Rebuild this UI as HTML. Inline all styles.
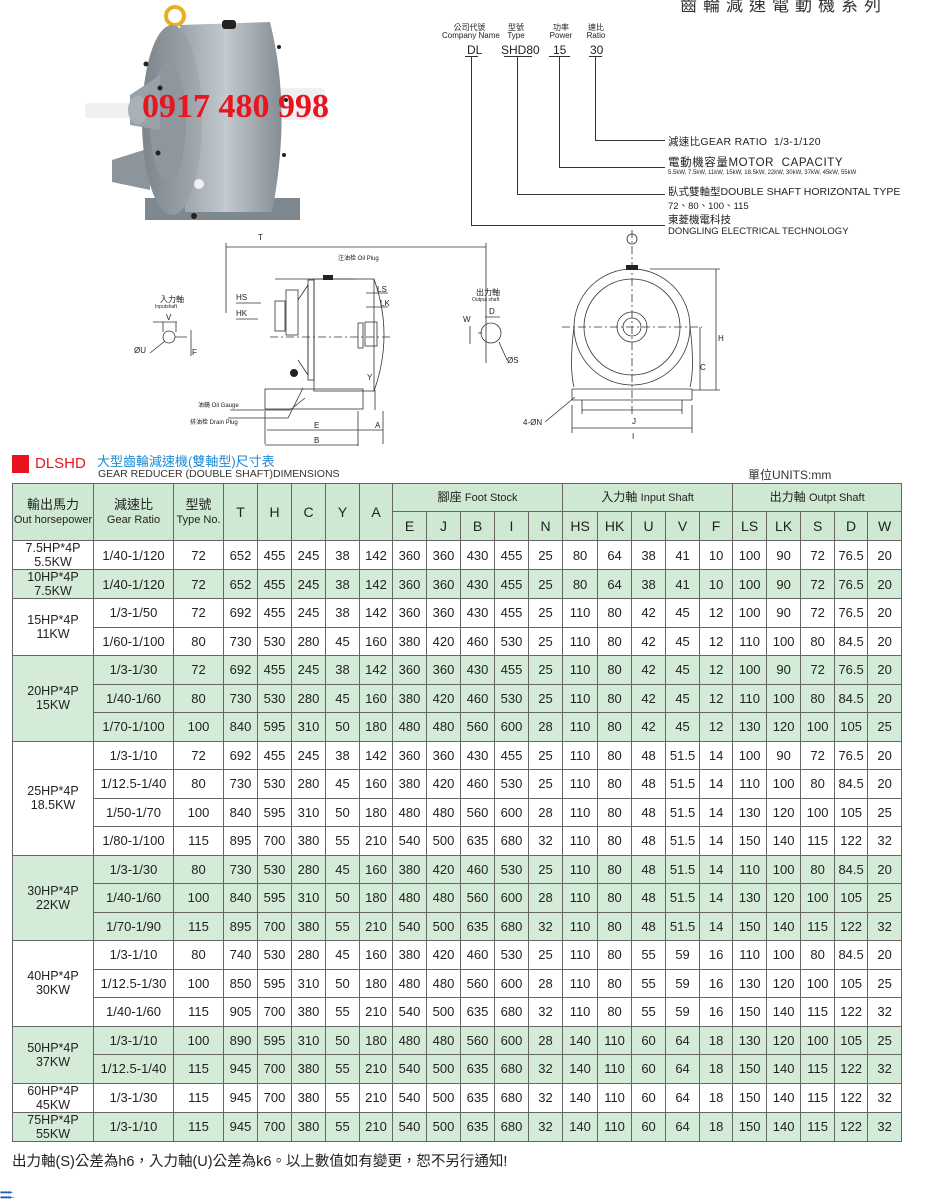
<!DOCTYPE html>
<html><head><meta charset="utf-8">
<style>
body{margin:0;width:926px;height:1200px;background:#fff;position:relative;overflow:hidden;font-family:"Liberation Sans","Noto Sans CJK TC",sans-serif;color:#222}
.a{position:absolute;white-space:nowrap}
table{position:absolute;left:12px;top:483px;border-collapse:collapse;table-layout:fixed;width:889px;font-size:13px}
td{border:1px solid #666;text-align:center;padding:0;line-height:13px;overflow:hidden;white-space:nowrap}
thead td{background:#cfe8d2;font-size:14px}
tr.d td{height:27.5px}
tr.g td{background:#d3ebd7}
.hp{font-size:12.5px;line-height:14px}
.sm{font-size:11px}
</style></head><body>

<div class="a" style="left:680px;top:-9px;font-size:17px;letter-spacing:6px;color:#333">齒輪減速電動機系列</div>

<!-- motor photo -->
<svg class="a" style="left:0;top:0" width="420" height="240">
<defs><linearGradient id="gb" x1="0" x2="1"><stop offset="0" stop-color="#9aa2a9"/><stop offset=".45" stop-color="#c3c9ce"/><stop offset="1" stop-color="#858d95"/></linearGradient>
<linearGradient id="gf" x1="0" x2="1"><stop offset="0" stop-color="#7d858c"/><stop offset="1" stop-color="#a4abb1"/></linearGradient></defs>
<circle cx="175" cy="16" r="9" fill="none" stroke="#e8b020" stroke-width="4"/>
<path d="M112 160 L150 148 L150 190 L112 182Z" fill="#8d959c"/>
<rect x="145" y="198" width="155" height="22" fill="#7f878f"/>
<rect x="85" y="103" width="45" height="15" rx="3" fill="#eef0f2"/>
<rect x="275" y="88" width="50" height="32" rx="4" fill="#eef0f2"/>
<path d="M180 25 L270 22 Q292 110 272 212 L185 212Z" fill="url(#gb)"/>
<ellipse cx="172" cy="120" rx="30" ry="95" fill="url(#gf)"/>
<ellipse cx="168" cy="122" rx="18" ry="60" fill="#8f979e"/>
<path d="M130 95 L160 75 L160 130 L130 125Z" fill="#9aa1a8"/>
<ellipse cx="138" cy="110" rx="10" ry="14" fill="#a9b0b6"/>
<rect x="222" y="20" width="14" height="9" rx="3" fill="#222"/>
<circle cx="194" cy="216" r="3" fill="#222"/>
<circle cx="199" cy="184" r="5" fill="#eef0f2"/>
<g fill="#222"><circle cx="146" cy="64" r="2.5"/><circle cx="160" cy="88" r="2.5"/><circle cx="158" cy="153" r="2.5"/><circle cx="279" cy="47" r="2"/><circle cx="286" cy="100" r="2"/><circle cx="284" cy="155" r="2"/></g>
</svg>
<div class="a" style="left:142px;top:88px;font-family:'Liberation Serif',serif;font-weight:bold;font-size:34px;color:#e8141e">0917 480 998</div>

<!-- code legend -->
<div class="a" style="left:442px;top:24px;font-size:8px;line-height:8px;text-align:center;width:55px">公司代號<br>Company Name</div>
<div class="a" style="left:501px;top:24px;font-size:8px;line-height:8px;text-align:center;width:30px">型號<br>Type</div>
<div class="a" style="left:547px;top:24px;font-size:8px;line-height:8px;text-align:center;width:28px">功率<br>Power</div>
<div class="a" style="left:583px;top:24px;font-size:8px;line-height:8px;text-align:center;width:26px">速比<br>Ratio</div>
<div class="a" style="left:467px;top:43px;font-size:12px">DL</div>
<div class="a" style="left:501px;top:43px;font-size:12px">SHD80</div>
<div class="a" style="left:553px;top:43px;font-size:12px">15</div>
<div class="a" style="left:590px;top:43px;font-size:12px">30</div>
<svg class="a" style="left:0;top:0" width="926" height="240">
<g stroke="#333" stroke-width="1" fill="none">
<path d="M465 56.5h13M504 56.5h28M549 56.5h21M589 56.5h13"/>
<path d="M595.5 57V140.5H665"/>
<path d="M559.5 57V167.5H665"/>
<path d="M517.5 57V194.5H665"/>
<path d="M471.5 57V225.5H665"/>
</g></svg>
<div class="a" style="left:668px;top:134px;font-size:10.5px;letter-spacing:.3px">減速比GEAR RATIO&nbsp; 1/3-1/120</div>
<div class="a" style="left:668px;top:154px;font-size:11.5px;letter-spacing:.6px">電動機容量MOTOR&nbsp; CAPACITY</div>
<div class="a" style="left:668px;top:170px;font-size:6px">5.5kW, 7.5kW, 11kW, 15kW, 18.5kW, 22kW, 30kW, 37kW, 45kW, 55kW</div>
<div class="a" style="left:668px;top:184px;font-size:10.5px">臥式雙軸型DOUBLE SHAFT HORIZONTAL TYPE</div>
<div class="a" style="left:668px;top:198px;font-size:9.5px">72、80、100、115</div>
<div class="a" style="left:668px;top:212px;font-size:10.5px">東菱機電科技</div>
<div class="a" style="left:668px;top:226px;font-size:9.5px">DONGLING ELECTRICAL TECHNOLOGY</div>

<!-- technical drawings -->
<svg class="a" style="left:0;top:230px" width="926" height="220" font-family="Liberation Sans,Noto Sans CJK TC,sans-serif">
<g stroke="#333" fill="none" stroke-width="0.8">
<circle cx="169" cy="107" r="6"/><path d="M175 107h12M153 92h24M163 92v10M176 92v10M191 100v26"/>
<path d="M150 123l15-12"/>
<path d="M226 17h260M226 13v70M486 13v120"/>
<path d="M275 49h80"/>
<rect x="275" y="71" width="10" height="30"/>
<rect x="286" y="60" width="12" height="45"/>
<path d="M298 70l10-15v90l-10-15"/>
<rect x="308" y="50" width="6" height="100"/>
<rect x="314" y="49" width="60" height="112"/>
<path d="M374 49q20 56 0 112"/>
<rect x="358" y="93" width="5" height="25"/>
<rect x="365" y="92" width="12" height="24"/>
<path d="M270 107h120" stroke-dasharray="8 3 2 3"/>
<rect x="265" y="159" width="98" height="20"/>
<path d="M265 181v33M358 181v35M383 181v33M267 200h91M265 215h93M358 200h25"/>
<path d="M230 180h60l15-12M228 188h60l15-30"/>
<path d="M366 63h22M366 77h22M375 160v20M236 73h25M236 89h22"/>
</g>
<rect x="323" y="45" width="10" height="5" fill="#222"/>
<circle cx="294" cy="143" r="4" fill="#222"/>
<g font-size="8" fill="#222">
<text x="160" y="72">入力軸</text><text x="155" y="78" font-size="5">Inputshaft</text>
<text x="166" y="90">V</text><text x="134" y="123">ØU</text><text x="192" y="125">F</text>
<text x="258" y="10">T</text><text x="338" y="30" font-size="6">注油栓 Oil Plug</text>
<text x="236" y="70">HS</text><text x="236" y="86">HK</text><text x="377" y="62">LS</text><text x="380" y="76">LK</text>
<text x="367" y="150">Y</text>
<text x="198" y="177" font-size="6">油鏡 Oil Gauge</text><text x="190" y="194" font-size="6">排油栓 Drain Plug</text>
<text x="314" y="198">E</text><text x="375" y="198">A</text><text x="314" y="213">B</text>
<text x="476" y="65">出力軸</text><text x="472" y="71" font-size="5">Output shaft</text>
<text x="489" y="84">D</text><text x="463" y="92">W</text><text x="507" y="133">ØS</text>
<text x="523" y="195">4-ØN</text><text x="632" y="194">J</text><text x="632" y="209">I</text>
<text x="718" y="111">H</text><text x="700" y="140">C</text>
</g>
<g stroke="#333" fill="none" stroke-width="0.8">
<circle cx="491" cy="103" r="10"/><path d="M478 103h4M485 87h15M470 96v18M499 112l8 18"/>
<circle cx="632" cy="97" r="58"/><circle cx="632" cy="97" r="48"/><circle cx="632" cy="97" r="15"/><circle cx="632" cy="97" r="9"/>
<circle cx="632" cy="9" r="5"/>
<path d="M574 97q-5 40 0 60M690 97q5 40 0 60M572 159h120M572 170h120M572 159v11M692 159v11"/>
<path d="M562 97h140M632 0v185" stroke-dasharray="8 3 2 3"/>
<path d="M582 180h100M572 198h120M572 175v28M692 175v28M582 170v14M682 170v14"/>
<path d="M650 39h70M692 160h28M716 39v121M700 97v63"/>
<path d="M545 192l30-25"/>
</g>
<rect x="626" y="35" width="12" height="5" fill="#222"/>
</svg>

<div class="a" style="left:12px;top:455px;width:17px;height:18px;background:#e8141e"></div>
<div class="a" style="left:35px;top:455px;font-size:15px;color:#e8141e">DLSHD</div>
<div class="a" style="left:97px;top:451px;font-size:13px;color:#1e8ad6">大型齒輪減速機(雙軸型)尺寸表</div>
<div class="a" style="left:98px;top:468px;font-size:10.5px;color:#333">GEAR REDUCER (DOUBLE SHAFT)DIMENSIONS</div>
<div class="a" style="left:748px;top:466px;font-size:12px;color:#333">單位UNITS:mm</div>

<table>
<colgroup>
<col style="width:81px"><col style="width:80px"><col style="width:50px"><col style="width:34px"><col style="width:34px"><col style="width:34px"><col style="width:34px"><col style="width:33px"><col style="width:34px"><col style="width:34px"><col style="width:34px"><col style="width:34px"><col style="width:34px"><col style="width:35px"><col style="width:34px"><col style="width:34px"><col style="width:34px"><col style="width:33px"><col style="width:34px"><col style="width:34px"><col style="width:34px"><col style="width:33px"><col style="width:34px">
</colgroup>
<thead>
<tr style="height:28px"><td rowspan="2" class="sm" style="line-height:14px"><span style="font-size:13px">輸出馬力</span><br>Out horsepower</td><td rowspan="2" class="sm" style="line-height:14px"><span style="font-size:13px">減速比</span><br>Gear Ratio</td><td rowspan="2" class="sm" style="line-height:14px"><span style="font-size:13px">型號</span><br>Type No.</td><td rowspan="2">T</td><td rowspan="2">H</td><td rowspan="2">C</td><td rowspan="2">Y</td><td rowspan="2">A</td><td colspan="5" style="font-size:12px">腳座 <span style="font-size:11px">Foot Stock</span></td><td colspan="5" style="font-size:12px">入力軸 <span style="font-size:11px">Input Shaft</span></td><td colspan="5" style="font-size:12px">出力軸 <span style="font-size:11px">Outpt Shaft</span></td></tr>
<tr style="height:29px"><td>E</td><td>J</td><td>B</td><td>I</td><td>N</td><td>HS</td><td>HK</td><td>U</td><td>V</td><td>F</td><td>LS</td><td>LK</td><td>S</td><td>D</td><td>W</td></tr>
</thead>
<tbody>
<tr class="d"><td class="hp">7.5HP*4P<br>5.5KW</td><td>1/40-1/120</td><td>72</td><td>652</td><td>455</td><td>245</td><td>38</td><td>142</td><td>360</td><td>360</td><td>430</td><td>455</td><td>25</td><td>80</td><td>64</td><td>38</td><td>41</td><td>10</td><td>100</td><td>90</td><td>72</td><td>76.5</td><td>20</td></tr>
<tr class="d g"><td class="hp">10HP*4P<br>7.5KW</td><td>1/40-1/120</td><td>72</td><td>652</td><td>455</td><td>245</td><td>38</td><td>142</td><td>360</td><td>360</td><td>430</td><td>455</td><td>25</td><td>80</td><td>64</td><td>38</td><td>41</td><td>10</td><td>100</td><td>90</td><td>72</td><td>76.5</td><td>20</td></tr>
<tr class="d"><td class="hp" rowspan="2">15HP*4P<br>11KW</td><td>1/3-1/50</td><td>72</td><td>692</td><td>455</td><td>245</td><td>38</td><td>142</td><td>360</td><td>360</td><td>430</td><td>455</td><td>25</td><td>110</td><td>80</td><td>42</td><td>45</td><td>12</td><td>100</td><td>90</td><td>72</td><td>76.5</td><td>20</td></tr>
<tr class="d"><td>1/60-1/100</td><td>80</td><td>730</td><td>530</td><td>280</td><td>45</td><td>160</td><td>380</td><td>420</td><td>460</td><td>530</td><td>25</td><td>110</td><td>80</td><td>42</td><td>45</td><td>12</td><td>110</td><td>100</td><td>80</td><td>84.5</td><td>20</td></tr>
<tr class="d g"><td class="hp" rowspan="3">20HP*4P<br>15KW</td><td>1/3-1/30</td><td>72</td><td>692</td><td>455</td><td>245</td><td>38</td><td>142</td><td>360</td><td>360</td><td>430</td><td>455</td><td>25</td><td>110</td><td>80</td><td>42</td><td>45</td><td>12</td><td>100</td><td>90</td><td>72</td><td>76.5</td><td>20</td></tr>
<tr class="d g"><td>1/40-1/60</td><td>80</td><td>730</td><td>530</td><td>280</td><td>45</td><td>160</td><td>380</td><td>420</td><td>460</td><td>530</td><td>25</td><td>110</td><td>80</td><td>42</td><td>45</td><td>12</td><td>110</td><td>100</td><td>80</td><td>84.5</td><td>20</td></tr>
<tr class="d g"><td>1/70-1/100</td><td>100</td><td>840</td><td>595</td><td>310</td><td>50</td><td>180</td><td>480</td><td>480</td><td>560</td><td>600</td><td>28</td><td>110</td><td>80</td><td>42</td><td>45</td><td>12</td><td>130</td><td>120</td><td>100</td><td>105</td><td>25</td></tr>
<tr class="d"><td class="hp" rowspan="4">25HP*4P<br>18.5KW</td><td>1/3-1/10</td><td>72</td><td>692</td><td>455</td><td>245</td><td>38</td><td>142</td><td>360</td><td>360</td><td>430</td><td>455</td><td>25</td><td>110</td><td>80</td><td>48</td><td>51.5</td><td>14</td><td>100</td><td>90</td><td>72</td><td>76.5</td><td>20</td></tr>
<tr class="d"><td>1/12.5-1/40</td><td>80</td><td>730</td><td>530</td><td>280</td><td>45</td><td>160</td><td>380</td><td>420</td><td>460</td><td>530</td><td>25</td><td>110</td><td>80</td><td>48</td><td>51.5</td><td>14</td><td>110</td><td>100</td><td>80</td><td>84.5</td><td>20</td></tr>
<tr class="d"><td>1/50-1/70</td><td>100</td><td>840</td><td>595</td><td>310</td><td>50</td><td>180</td><td>480</td><td>480</td><td>560</td><td>600</td><td>28</td><td>110</td><td>80</td><td>48</td><td>51.5</td><td>14</td><td>130</td><td>120</td><td>100</td><td>105</td><td>25</td></tr>
<tr class="d"><td>1/80-1/100</td><td>115</td><td>895</td><td>700</td><td>380</td><td>55</td><td>210</td><td>540</td><td>500</td><td>635</td><td>680</td><td>32</td><td>110</td><td>80</td><td>48</td><td>51.5</td><td>14</td><td>150</td><td>140</td><td>115</td><td>122</td><td>32</td></tr>
<tr class="d g"><td class="hp" rowspan="3">30HP*4P<br>22KW</td><td>1/3-1/30</td><td>80</td><td>730</td><td>530</td><td>280</td><td>45</td><td>160</td><td>380</td><td>420</td><td>460</td><td>530</td><td>25</td><td>110</td><td>80</td><td>48</td><td>51.5</td><td>14</td><td>110</td><td>100</td><td>80</td><td>84.5</td><td>20</td></tr>
<tr class="d g"><td>1/40-1/60</td><td>100</td><td>840</td><td>595</td><td>310</td><td>50</td><td>180</td><td>480</td><td>480</td><td>560</td><td>600</td><td>28</td><td>110</td><td>80</td><td>48</td><td>51.5</td><td>14</td><td>130</td><td>120</td><td>100</td><td>105</td><td>25</td></tr>
<tr class="d g"><td>1/70-1/90</td><td>115</td><td>895</td><td>700</td><td>380</td><td>55</td><td>210</td><td>540</td><td>500</td><td>635</td><td>680</td><td>32</td><td>110</td><td>80</td><td>48</td><td>51.5</td><td>14</td><td>150</td><td>140</td><td>115</td><td>122</td><td>32</td></tr>
<tr class="d"><td class="hp" rowspan="3">40HP*4P<br>30KW</td><td>1/3-1/10</td><td>80</td><td>740</td><td>530</td><td>280</td><td>45</td><td>160</td><td>380</td><td>420</td><td>460</td><td>530</td><td>25</td><td>110</td><td>80</td><td>55</td><td>59</td><td>16</td><td>110</td><td>100</td><td>80</td><td>84.5</td><td>20</td></tr>
<tr class="d"><td>1/12.5-1/30</td><td>100</td><td>850</td><td>595</td><td>310</td><td>50</td><td>180</td><td>480</td><td>480</td><td>560</td><td>600</td><td>28</td><td>110</td><td>80</td><td>55</td><td>59</td><td>16</td><td>130</td><td>120</td><td>100</td><td>105</td><td>25</td></tr>
<tr class="d"><td>1/40-1/60</td><td>115</td><td>905</td><td>700</td><td>380</td><td>55</td><td>210</td><td>540</td><td>500</td><td>635</td><td>680</td><td>32</td><td>110</td><td>80</td><td>55</td><td>59</td><td>16</td><td>150</td><td>140</td><td>115</td><td>122</td><td>32</td></tr>
<tr class="d g"><td class="hp" rowspan="2">50HP*4P<br>37KW</td><td>1/3-1/10</td><td>100</td><td>890</td><td>595</td><td>310</td><td>50</td><td>180</td><td>480</td><td>480</td><td>560</td><td>600</td><td>28</td><td>140</td><td>110</td><td>60</td><td>64</td><td>18</td><td>130</td><td>120</td><td>100</td><td>105</td><td>25</td></tr>
<tr class="d g"><td>1/12.5-1/40</td><td>115</td><td>945</td><td>700</td><td>380</td><td>55</td><td>210</td><td>540</td><td>500</td><td>635</td><td>680</td><td>32</td><td>140</td><td>110</td><td>60</td><td>64</td><td>18</td><td>150</td><td>140</td><td>115</td><td>122</td><td>32</td></tr>
<tr class="d"><td class="hp">60HP*4P<br>45KW</td><td>1/3-1/30</td><td>115</td><td>945</td><td>700</td><td>380</td><td>55</td><td>210</td><td>540</td><td>500</td><td>635</td><td>680</td><td>32</td><td>140</td><td>110</td><td>60</td><td>64</td><td>18</td><td>150</td><td>140</td><td>115</td><td>122</td><td>32</td></tr>
<tr class="d g"><td class="hp">75HP*4P<br>55KW</td><td>1/3-1/10</td><td>115</td><td>945</td><td>700</td><td>380</td><td>55</td><td>210</td><td>540</td><td>500</td><td>635</td><td>680</td><td>32</td><td>140</td><td>110</td><td>60</td><td>64</td><td>18</td><td>150</td><td>140</td><td>115</td><td>122</td><td>32</td></tr>
</tbody>
</table>

<div class="a" style="left:12px;top:1150px;font-size:14.5px;color:#222">出力軸(S)公差為h6，入力軸(U)公差為k6。以上數值如有變更，恕不另行通知!</div>
<div class="a" style="left:0;top:1190px;font-size:8px;color:#1e5bb8;letter-spacing:-1px;line-height:5px">••••••·<br>••••••··</div>
</body></html>
